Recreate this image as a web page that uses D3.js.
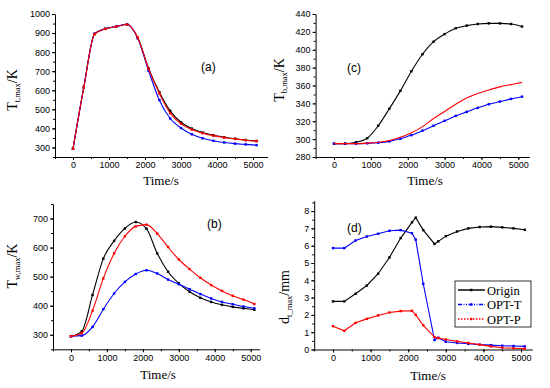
<!DOCTYPE html>
<html>
<head>
  <script src="https://d3js.org/d3.v7.min.js"></script>
  <style>
    body { margin: 0; background: #fff; }
  </style>
</head>
<body>
<svg width="550" height="388" id="mainSvg"></svg>

<script>
    // time steps (s)
    var timeSteps = [0, 300, 600, 900, 1200, 1500, 1800, 2100, 2400, 2700, 3000, 3300, 3600, 3900, 4200, 4500, 4800, 5100];
    var timeStepsD = [0, 300, 600, 900, 1200, 1500, 1800, 2100, 2200, 2400, 2700, 2800, 3000, 3300, 3600, 3900, 4200, 4500, 4800, 5100];

    var seriesNames = ["Origin", "OPT-T", "OPT-P"];

    // (a) T_t,max / K
    var ttOrigin = [293, 615, 895, 922, 934, 945, 875, 715, 590, 492, 432, 399, 378, 364, 354, 346, 339, 334];
    var ttOptT   = [293, 615, 897, 923, 935, 946, 872, 702, 548, 452, 402, 369, 348, 335, 326, 320, 316, 312];
    var ttOptP   = [293, 615, 895, 922, 934, 945, 876, 712, 583, 480, 424, 394, 375, 362, 352, 345, 338, 333];

    // (b) T_w,max / K
    var twOrigin = [295, 312, 437, 562, 623, 666, 688, 665, 580, 517, 477, 448, 427, 413, 403, 396, 391, 386];
    var twOptT   = [295, 297, 327, 388, 442, 482, 509, 522, 511, 490, 474, 457, 440, 425, 413, 405, 397, 391];
    var twOptP   = [295, 305, 383, 494, 580, 639, 673, 679, 648, 602, 559, 526, 496, 471, 451, 434, 421, 406];

    // (c) T_b,max / K
    var tbOrigin = [295, 295, 296.5, 301, 315, 334, 354, 376, 395, 409, 417.5, 424, 427, 428.8, 429.5, 429.5, 428.8, 426];
    var tbOptT   = [295, 295, 295, 295.3, 296, 297.5, 300.5, 304.5, 309.5, 315, 320.5, 326, 330.5, 335, 339, 342, 345, 347.5];
    var tbOptP   = [295, 295, 295, 295.5, 296.5, 298.5, 302, 307, 314, 323, 331, 339, 346, 351, 355, 358.5, 361, 363.5];

    // (d) d_t_max / mm
    var dOrigin = [2.78, 2.78, 3.22, 3.7, 4.38, 5.32, 6.44, 7.35, 7.62, 6.9, 6.1, 6.25, 6.55, 6.82, 7.0, 7.08, 7.1, 7.06, 7.0, 6.92];
    var dOptT   = [5.86, 5.86, 6.3, 6.53, 6.69, 6.86, 6.9, 6.72, 6.35, 3.8, 0.55, 0.68, 0.45, 0.38, 0.33, 0.28, 0.25, 0.22, 0.2, 0.18];
    var dOptP   = [1.35, 1.08, 1.54, 1.77, 1.97, 2.14, 2.22, 2.24, 2.0, 1.4, 0.72, 0.66, 0.58, 0.47, 0.38, 0.28, 0.18, 0.1, 0.07, 0.05];

    var colors = ["#000000", "#0000ff", "#ff0000"];

    var serif = "'Liberation Serif', 'Times New Roman', serif";
    var sans = "'Liberation Sans', Arial, sans-serif";

    var svg = d3.select("#mainSvg");

    function drawPanel(p) {
        var x = d3.scaleLinear().domain(p.xDomain).range(p.xRange);
        var y = d3.scaleLinear().domain(p.yDomain).range(p.yRange);
        var g = svg.append("g");

        // minor ticks
        g.append("g")
            .attr("transform", "translate(0," + p.yRange[0] + ")")
            .call(d3.axisBottom(x).tickValues(d3.range(-500, p.xDomain[1] + 1, 500)).tickSize(2).tickFormat(""))
            .call(s => s.select(".domain").remove());
        g.append("g")
            .attr("transform", "translate(" + p.xRange[0] + ",0)")
            .call(d3.axisLeft(y).tickValues(d3.range(p.yDomain[0], p.yDomain[1] + 1e-6, p.yMinor)).tickSize(2).tickFormat(""))
            .call(s => s.select(".domain").remove());

        // major ticks + labels
        g.append("g")
            .attr("transform", "translate(0," + p.yRange[0] + ")")
            .call(d3.axisBottom(x).tickValues([0, 1000, 2000, 3000, 4000, 5000]).tickSize(3).tickPadding(2).tickSizeOuter(0).tickFormat(d3.format("d")));
        g.append("g")
            .attr("transform", "translate(" + p.xRange[0] + ",0)")
            .call(d3.axisLeft(y).tickValues(p.yTicks).tickSize(3).tickPadding(2).tickSizeOuter(0).tickFormat(d3.format("d")));
        g.selectAll("text").attr("font-family", sans).attr("font-size", 9).attr("fill", "#000");
        g.selectAll("path, line").attr("stroke", "#000");

        // series
        var line = d3.line()
            .x((d, i) => x(p.t[i]))
            .y(d => y(d))
            .curve(p.curve);
        p.series.forEach(function(vals, k) {
            g.append("path")
                .attr("d", line(vals))
                .attr("fill", "none")
                .attr("stroke", colors[k])
                .attr("stroke-width", 1.1);
            if (p.markers[k]) {
                g.selectAll(null)
                    .data(vals)
                    .enter()
                    .append("rect")
                    .attr("x", (d, i) => x(p.t[i]) - 1.2)
                    .attr("y", d => y(d) - 1.2)
                    .attr("width", 2.4)
                    .attr("height", 2.4)
                    .attr("fill", colors[k]);
            }
        });

        // titles
        g.append("text")
            .attr("x", p.xTitle[0]).attr("y", p.xTitle[1])
            .attr("text-anchor", "middle")
            .attr("font-family", serif)
            .attr("font-weight", "normal")
            .attr("font-size", 13)
            .text("Time/s");

        var yt = g.append("text")
            .attr("transform", "translate(" + p.yTitle[0] + "," + p.yTitle[1] + ") rotate(-90)")
            .attr("text-anchor", "middle")
            .attr("font-family", serif)
            .attr("font-weight", "normal")
            .attr("font-size", 14);
        yt.append("tspan").text(p.yName[0]);
        yt.append("tspan").attr("font-size", 8.5).attr("dy", 3).text(p.yName[1]);
        yt.append("tspan").attr("dy", -3).text(p.yName[2]);

        g.append("text")
            .attr("x", p.tag[0]).attr("y", p.tag[1])
            .attr("font-family", sans)
            .attr("font-size", 12)
            .text(p.tag[2]);

        return g;
    }

    // (a)
    drawPanel({
        xDomain: [-500, 5400], xRange: [55, 267.4],
        yDomain: [250, 1000], yRange: [157, 14],
        yTicks: [300, 400, 500, 600, 700, 800, 900, 1000], yMinor: 50,
        t: timeSteps, series: [ttOrigin, ttOptT, ttOptP], markers: [true, true, true],
        curve: d3.curveMonotoneX,
        xTitle: [161, 185], yTitle: [17, 90], yName: ["T", "t,max", "/K"],
        tag: [201, 71, "(a)"]
    });

    // (c)
    drawPanel({
        xDomain: [-500, 5300], xRange: [315.6, 529.4],
        yDomain: [280, 440], yRange: [157, 14],
        yTicks: d3.range(280, 441, 20), yMinor: 10,
        t: timeSteps, series: [tbOrigin, tbOptT, tbOptP], markers: [true, true, false],
        curve: d3.curveMonotoneX,
        xTitle: [425, 185], yTitle: [284, 80], yName: ["T", "b,max", "/K"],
        tag: [347, 72, "(c)"]
    });

    // (b)
    drawPanel({
        xDomain: [-500, 5250], xRange: [53, 259.7],
        yDomain: [250, 750], yRange: [349.3, 204],
        yTicks: [300, 400, 500, 600, 700], yMinor: 50,
        t: timeSteps, series: [twOrigin, twOptT, twOptP], markers: [true, true, true],
        curve: d3.curveMonotoneX,
        xTitle: [158, 379], yTitle: [17, 266], yName: ["T", "w,max", "/K"],
        tag: [207, 228, "(b)"]
    });

    // (d)
    drawPanel({
        xDomain: [-500, 5300], xRange: [314.2, 532.3],
        yDomain: [0, 8.6], yRange: [349.5, 200.7],
        yTicks: [0, 1, 2, 3, 4, 5, 6, 7, 8], yMinor: 0.5,
        t: timeStepsD, series: [dOrigin, dOptT, dOptP], markers: [true, true, true],
        curve: d3.curveLinear,
        xTitle: [428, 380], yTitle: [289, 297], yName: ["d", "t_max", "/mm"],
        tag: [347, 232, "(d)"]
    });

    // legend for (d)
    var lg = svg.append("g");
    lg.append("rect")
        .attr("x", 455).attr("y", 281).attr("width", 76).attr("height", 46)
        .attr("fill", "#fff").attr("stroke", "#000").attr("stroke-width", 0.8);
    var dashes = [null, "4,1.5,1,1.5,1,1.5", "1.5,1.5"];
    seriesNames.forEach(function(name, k) {
        var yy = 290 + k * 14.5;
        lg.append("line")
            .attr("x1", 458).attr("x2", 485).attr("y1", yy).attr("y2", yy)
            .attr("stroke", k == 0 ? "#444" : colors[k])
            .attr("stroke-width", k == 0 ? 2 : 1.3)
            .attr("stroke-dasharray", dashes[k]);
        lg.append("rect")
            .attr("x", 470).attr("y", yy - 1.2).attr("width", 2.4).attr("height", 2.4)
            .attr("fill", colors[k]);
        lg.append("text")
            .attr("x", 487).attr("y", yy + 4.5)
            .attr("font-family", serif)
            .attr("font-size", 12.5)
            .text(name);
    });
</script>
</body>
</html>
